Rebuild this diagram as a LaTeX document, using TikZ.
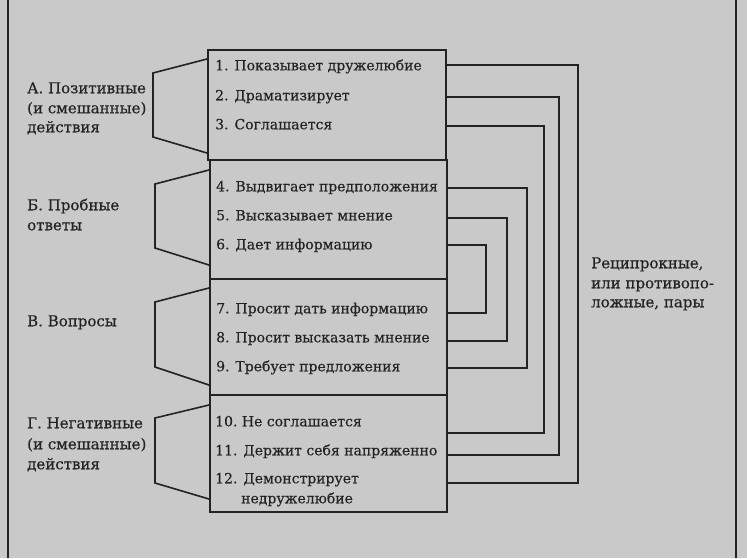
\documentclass[tikz,border=0pt]{standalone}
\usepackage{fontspec}
\setmainfont[FakeBold=0.4]{DejaVu Serif}
\definecolor{paper}{HTML}{C9C9C9}
\definecolor{ink}{HTML}{232323}
\tikzset{
  txt/.style={font=\fontsize{14}{20}\selectfont, text=ink, inner sep=0pt, anchor=west, text height=1.5ex, text depth=.25ex},
  lbl/.style={txt, font=\fontsize{15}{20}\selectfont},
  grp/.style={draw=ink, line width=1.7pt, inner sep=0pt},
  ln/.style={draw=ink, line width=1.6pt, line join=miter},
}
\begin{document}
\begin{tikzpicture}[x=1pt,y=-1pt]
\fill[paper] (0,0) rectangle (747,558);
\useasboundingbox (0,0) rectangle (747,558);
% outer frame lines
\coordinate (ft) at (8,0); \coordinate (fb) at (8,558);
\coordinate (gt) at (736,0); \coordinate (gb) at (736,558);
\draw[ln] (ft) -- (fb);
\draw[ln] (gt) -- (gb);
% group boxes
\node[grp, minimum width=238pt, minimum height=110pt, anchor=north west] (g1) at (207,49) {};
\node[grp, minimum width=237pt, minimum height=119pt, anchor=north west] (g2) at (209,159) {};
\node[grp, minimum width=237pt, minimum height=116pt, anchor=north west] (g3) at (209,278) {};
\node[grp, minimum width=237pt, minimum height=117pt, anchor=north west] (g4) at (209,394) {};
% items
\node[txt] (i1) at (215,67) {1. Показывает дружелюбие};
\node[txt] (i2) at (215,97) {2. Драматизирует};
\node[txt] (i3) at (215,126) {3. Соглашается};
\node[txt] (i4) at (216,188) {4. Выдвигает предположения};
\node[txt] (i5) at (216,217) {5. Высказывает мнение};
\node[txt] (i6) at (216,246) {6. Дает информацию};
\node[txt] (i7) at (216,310) {7. Просит дать информацию};
\node[txt] (i8) at (216,339) {8. Просит высказать мнение};
\node[txt] (i9) at (216,368) {9. Требует предложения};
\node[txt] (i10) at (215,423) {10.\ Не соглашается};
\node[txt] (i11) at (215,452) {11. Держит себя напряженно};
\node[txt] (i12) at (215,480) {12. Демонстрирует};
\node[txt] (i12b) at (241,500) {недружелюбие};
% left labels
\node[lbl] (la1) at (27,90) {А. Позитивные};
\node[lbl] (la2) at (27,110) {(и смешанные)};
\node[lbl] (la3) at (27,129) {действия};
\node[lbl] (lb1) at (27,207) {Б. Пробные};
\node[lbl] (lb2) at (27,227) {ответы};
\node[lbl] (lc) at (27,323) {В. Вопросы};
\node[lbl] (ld1) at (27,425) {Г. Негативные};
\node[lbl] (ld2) at (27,446) {(и смешанные)};
\node[lbl] (ld3) at (27,466) {действия};
% right label
\node[lbl] (lr1) at (591,265) {Реципрокные,};
\node[lbl] (lr2) at (591,285) {или противопо-};
\node[lbl] (lr3) at (591,304) {ложные,\ пары};
% brackets
\coordinate (a1) at (207,59);  \coordinate (a2) at (153,73);  \coordinate (a3) at (153,137); \coordinate (a4) at (207,153);
\coordinate (b1) at (209,170); \coordinate (b2) at (155,184); \coordinate (b3) at (155,248); \coordinate (b4) at (209,265);
\coordinate (c1) at (209,288); \coordinate (c2) at (155,302); \coordinate (c3) at (155,367); \coordinate (c4) at (209,385);
\coordinate (d1) at (209,405); \coordinate (d2) at (155,418); \coordinate (d3) at (155,483); \coordinate (d4) at (209,499);
\draw[ln] (a1) -- (a2) -- (a3) -- (a4);
\draw[ln] (b1) -- (b2) -- (b3) -- (b4);
\draw[ln] (c1) -- (c2) -- (c3) -- (c4);
\draw[ln] (d1) -- (d2) -- (d3) -- (d4);
% reciprocal pair connectors
\coordinate (p1) at (445,65);  \coordinate (q1) at (578,65);  \coordinate (p12) at (446,483);
\coordinate (p2) at (445,97);  \coordinate (q2) at (559,97);  \coordinate (p11) at (446,455);
\coordinate (p3) at (445,126); \coordinate (q3) at (544,126); \coordinate (p10) at (446,433);
\coordinate (p4) at (446,188); \coordinate (q4) at (527,188); \coordinate (p9) at (446,368);
\coordinate (p5) at (446,218); \coordinate (q5) at (507,218); \coordinate (p8) at (446,341);
\coordinate (p6) at (446,245); \coordinate (q6) at (486,245); \coordinate (p7) at (446,313);
\draw[ln] (p1) -- (q1) |- (p12);
\draw[ln] (p2) -- (q2) |- (p11);
\draw[ln] (p3) -- (q3) |- (p10);
\draw[ln] (p4) -- (q4) |- (p9);
\draw[ln] (p5) -- (q5) |- (p8);
\draw[ln] (p6) -- (q6) |- (p7);
\end{tikzpicture}
\end{document}
